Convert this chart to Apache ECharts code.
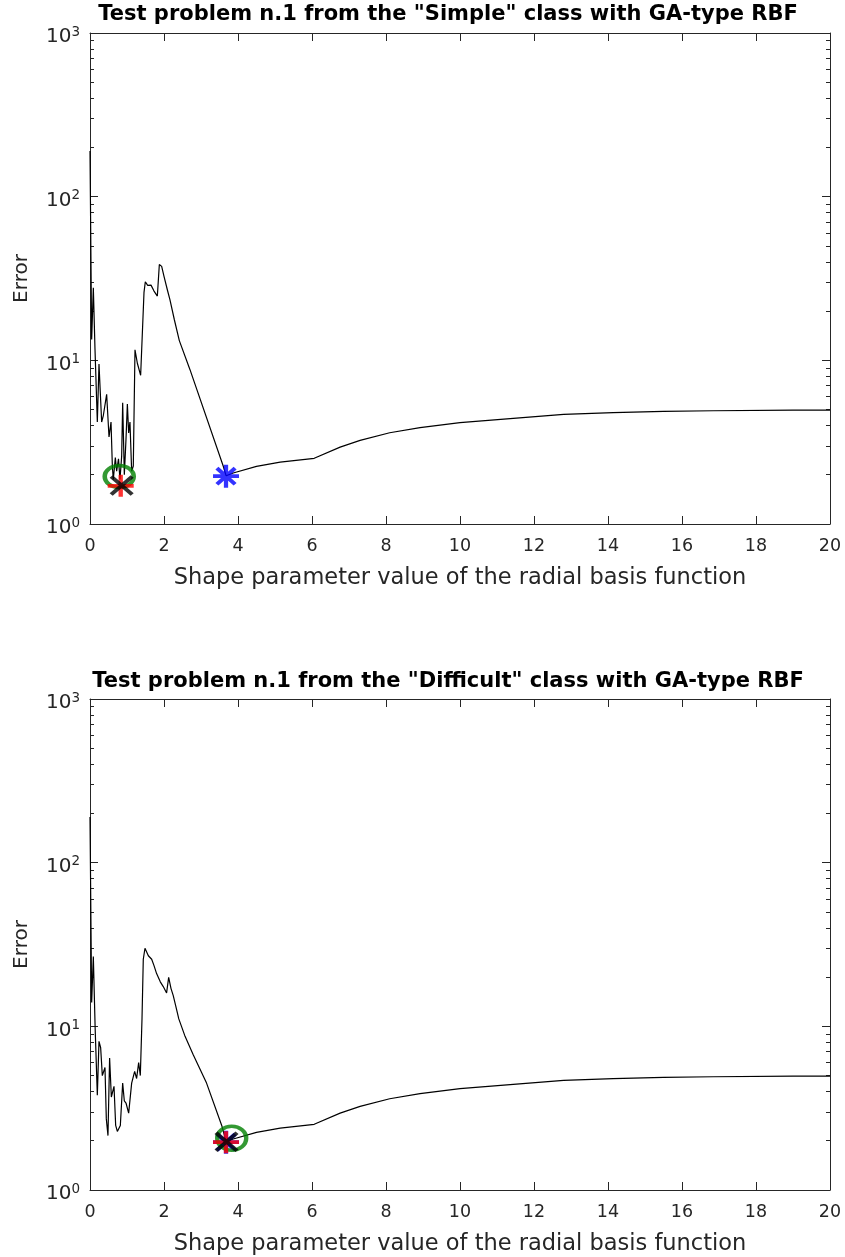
<!DOCTYPE html>
<html>
<head>
<meta charset="utf-8">
<script src="https://cdn.jsdelivr.net/npm/echarts@6/dist/echarts.min.js"></script>
<style>
  html, body { margin: 0; padding: 0; background: #fff; }
  #chart { width: 845px; height: 1257px; }
</style>
</head>
<body>
<div id="chart"></div>
<script>
// error curve, "Simple" class
var simpleX = [0, 0.045, 0.09, 0.135, 0.198, 0.243, 0.315, 0.36, 0.45, 0.514, 0.568, 0.604, 0.63, 0.685, 0.72, 0.77,
  0.81, 0.856, 0.883, 0.928, 0.973, 1.01, 1.045, 1.08, 1.126, 1.17, 1.216, 1.28, 1.369, 1.459, 1.495, 1.559,
  1.649, 1.73, 1.82, 1.874, 1.937, 2.0, 2.09, 2.16, 2.28, 2.414, 2.7, 3.6, 3.68];
var simpleY = [190, 13.4, 27.8, 11.7, 4.2, 9.5, 4.2, 4.6, 6.2, 3.4, 4.2, 2.26, 1.87, 2.55, 2.1, 2.5,
  1.87, 2.6, 5.5, 2.0, 3.3, 5.4, 3.6, 4.2, 2.1, 2.26, 11.6, 9.6, 8.1, 25.9, 30.2, 28.7,
  28.8, 26.5, 24.7, 38.5, 37.5, 32.6, 27, 23.5, 17.7, 13.2, 8.8, 2.26, 1.97];

// error curve, "Difficult" class
var difficultX = [0, 0.045, 0.09, 0.14, 0.198, 0.243, 0.288, 0.333, 0.369, 0.405, 0.441, 0.486, 0.53, 0.577, 0.613,
  0.649, 0.694, 0.739, 0.784, 0.82, 0.856, 0.883, 0.928, 0.973, 1.045, 1.126, 1.17, 1.207, 1.26, 1.315, 1.36,
  1.405, 1.44, 1.486, 1.577, 1.667, 1.73, 1.8, 1.9, 1.98, 2.07, 2.126, 2.19, 2.25, 2.315, 2.4, 2.56, 2.79,
  3.15, 3.56, 3.68];
var difficultY = [190, 14, 26.7, 9.6, 3.8, 8.1, 7.4, 5.0, 5.0, 5.6, 2.72, 2.15, 6.4, 3.7, 3.7,
  4.3, 2.48, 2.28, 2.3, 2.48, 2.48, 4.5, 3.5, 3.4, 2.95, 4.5, 4.5, 5.3, 4.8, 6.0, 5.0,
  11, 25.7, 30, 27, 25.7, 23.5, 21, 18.7, 17.5, 16, 19.9, 17, 15.4, 13.4, 11.1, 8.8, 6.7,
  4.5, 2.48, 1.97];

// the smooth tail is the same in both plots
var tailX = [3.87, 4.5, 5.14, 6.06, 6.76, 7.3, 8.1, 8.92, 10.0, 11.44, 12.8, 14.14, 15.5, 16.85, 19.0, 20];
var tailY = [2.05, 2.25, 2.39, 2.52, 2.95, 3.24, 3.61, 3.88, 4.16, 4.42, 4.67, 4.79, 4.88, 4.92, 4.96, 4.97];

// markers [x, y]
var simpleCircle = [0.79, 1.95];
var simplePlus = [0.83, 1.71];
var simpleCross = [0.856, 1.72];
var simpleStar = [3.676, 1.96];

var difficultCircle = [3.83, 2.07];
var difficultPlus = [3.676, 1.96];
var difficultCross = [3.69, 1.97];
var difficultStar = [3.676, 1.96];

var titles = [
  'Test problem n.1 from the "Simple" class with GA-type RBF',
  'Test problem n.1 from the "Difficult" class with GA-type RBF'
];
var xName = 'Shape parameter value of the radial basis function';
var yName = 'Error';
var yMinorTicks = [2, 3, 4, 5, 6, 7, 8, 9, 20, 30, 40, 50, 60, 70, 80, 90, 200, 300, 400, 500, 600, 700, 800, 900];

function zip(xs, ys) {
  var out = [];
  for (var i = 0; i < xs.length; i++) out.push([xs[i], ys[i]]);
  return out;
}

var axisColor = '#262626';
var plusPath = 'path://M0,5L10,5M5,0L5,10';
var crossPath = 'path://M0,0L10,10M10,0L0,10';
var starPath = 'path://M0,5L10,5M5,0L5,10M1.5,1.5L8.5,8.5M8.5,1.5L1.5,8.5';

var grids = [
  { left: 90, top: 33, width: 740, height: 491 },
  { left: 90, top: 699, width: 740, height: 492 }
];

var xAxes = [], yAxes = [], series = [];

grids.forEach(function (g, gi) {
  // bottom x axis with labels
  xAxes.push({
    type: 'value', gridIndex: gi, min: 0, max: 20, interval: 2, position: 'bottom',
    name: xName, nameLocation: 'middle', nameGap: 43,
    nameTextStyle: { fontFamily: 'DejaVu Sans', fontSize: 22.5, color: axisColor },
    axisLine: { show: true, lineStyle: { color: axisColor, width: 1 } },
    axisTick: { show: true, inside: true, length: 8, lineStyle: { color: axisColor } },
    axisLabel: { margin: 13, fontFamily: 'DejaVu Sans', fontSize: 17.5, color: axisColor },
    splitLine: { show: false }
  });
  // top x axis (box)
  xAxes.push({
    type: 'value', gridIndex: gi, min: 0, max: 20, interval: 2, position: 'top',
    axisLine: { show: true, lineStyle: { color: axisColor, width: 1 } },
    axisTick: { show: true, inside: true, length: 8, lineStyle: { color: axisColor } },
    axisLabel: { show: false },
    splitLine: { show: false }
  });
  ['left', 'right'].forEach(function (side) {
    yAxes.push({
      type: 'log', logBase: 10, gridIndex: gi, min: 1, max: 1000, position: side,
      name: side === 'left' ? yName : '', nameLocation: 'middle', nameGap: 58,
      nameTextStyle: { fontFamily: 'DejaVu Sans', fontSize: 20, color: axisColor },
      axisLine: { show: true, lineStyle: { color: axisColor, width: 1 } },
      axisTick: { show: true, inside: true, length: 8, lineStyle: { color: axisColor } },
      axisLabel: {
        show: side === 'left', margin: 10,
        formatter: function (v) {
          return '{b|10}{s|' + Math.round(Math.log(v) / Math.LN10) + '}';
        },
        rich: {
          b: { fontFamily: 'DejaVu Sans', fontSize: 20, lineHeight: 20, color: axisColor, padding: [8, 0, 0, 0] },
          s: { fontFamily: 'DejaVu Sans', fontSize: 13.5, lineHeight: 14, color: axisColor, padding: [0, 0, 2, 0] }
        }
      },
      splitLine: { show: false }
    });
    // minor ticks
    yAxes.push({
      type: 'log', logBase: 10, gridIndex: gi, min: 1, max: 1000, position: side,
      axisLine: { show: false },
      axisTick: { show: true, inside: true, length: 4, customValues: yMinorTicks, lineStyle: { color: axisColor } },
      axisLabel: { show: false },
      splitLine: { show: false }
    });
  });
});

function curve(gi, data) {
  return {
    type: 'line', xAxisIndex: gi * 2, yAxisIndex: gi * 4, data: data,
    showSymbol: false, symbol: 'none', silent: true,
    lineStyle: { color: '#000', width: 1.2 }, z: 2
  };
}
function marker(gi, pt, symbol, size, color, z) {
  return {
    type: 'scatter', xAxisIndex: gi * 2, yAxisIndex: gi * 4, data: [pt],
    symbol: symbol, symbolSize: size, silent: true, z: z,
    itemStyle: { color: 'rgba(0,0,0,0)', borderColor: color, borderWidth: 4 }
  };
}

series.push(curve(0, zip(simpleX.concat(tailX), simpleY.concat(tailY))));
series.push(marker(0, simpleStar, starPath, [26, 23], '#0000ff', 3));
series.push(marker(0, simpleCircle, 'circle', [29, 22], '#008000', 4));
series.push(marker(0, simplePlus, plusPath, [26, 22], '#ff0000', 5));
series.push(marker(0, simpleCross, crossPath, [21, 18], '#000000', 6));

series.push(curve(1, zip(difficultX.concat(tailX), difficultY.concat(tailY))));
series.push(marker(1, difficultStar, starPath, [26, 23], '#0000ff', 3));
series.push(marker(1, difficultCircle, 'circle', [29, 24], '#008000', 4));
series.push(marker(1, difficultPlus, plusPath, [26, 22], '#ff0000', 5));
series.push(marker(1, difficultCross, crossPath, [21, 18], '#000000', 6));

var chart = echarts.init(document.getElementById('chart'));
chart.setOption({
  animation: false,
  backgroundColor: '#fff',
  title: [
    { text: titles[0], left: 448, top: 4, textAlign: 'center', padding: 0,
      textStyle: { fontFamily: 'DejaVu Sans', fontWeight: 'bold', fontSize: 21, color: '#000' } },
    { text: titles[1], left: 448, top: 671, textAlign: 'center', padding: 0,
      textStyle: { fontFamily: 'DejaVu Sans', fontWeight: 'bold', fontSize: 21, color: '#000' } }
  ],
  grid: grids,
  xAxis: xAxes,
  yAxis: yAxes,
  series: series
});
</script>
</body>
</html>
